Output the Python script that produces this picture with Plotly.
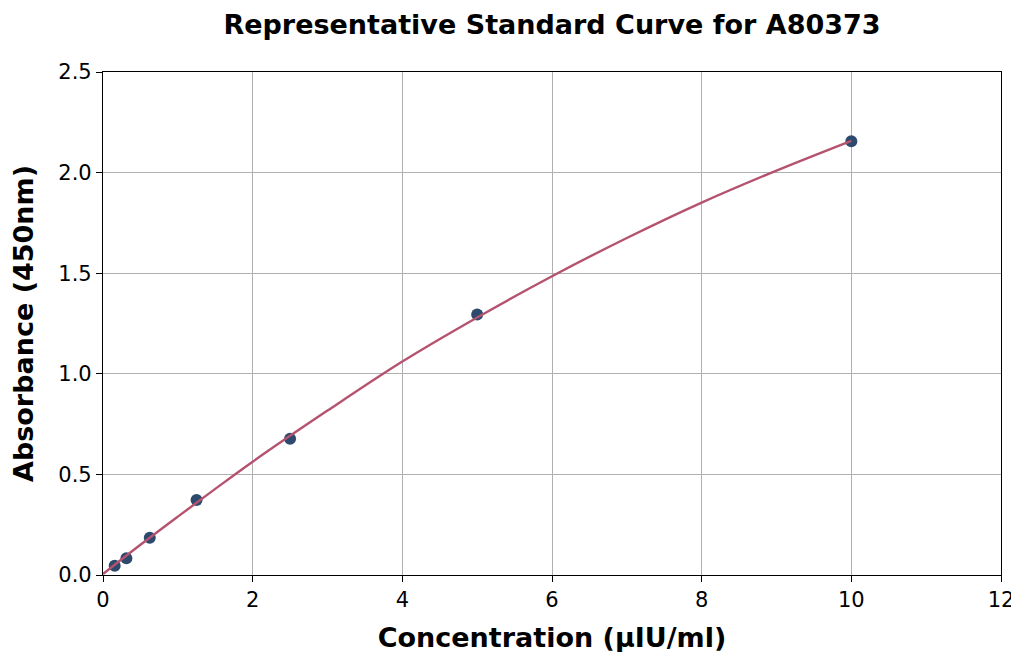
import plotly.graph_objects as go

conc = [0.156, 0.3125, 0.625, 1.25, 2.5, 5, 10]
absorb = [0.046, 0.083, 0.185, 0.373, 0.677, 1.295, 2.156]

curve_x = [0, 0.5, 1, 1.5, 2, 3, 4, 5, 6, 7, 8, 9, 10]
curve_y = [0.005, 0.15, 0.29, 0.428, 0.563, 0.817, 1.061, 1.28, 1.485, 1.675, 1.851, 2.01, 2.158]

x_ticks = [0, 2, 4, 6, 8, 10, 12]
y_ticks = [0.0, 0.5, 1.0, 1.5, 2.0, 2.5]
y_tick_labels = ["0.0", "0.5", "1.0", "1.5", "2.0", "2.5"]

fig = go.Figure()
fig.add_trace(go.Scatter(x=conc, y=absorb, mode="markers",
                         marker=dict(color="#2c4a6e", size=12), showlegend=False))
fig.add_trace(go.Scatter(x=curve_x, y=curve_y, mode="lines", line_shape="spline",
                         line=dict(color="#b5536f", width=2.4), showlegend=False))

axis_common = dict(showline=True, linecolor="black", linewidth=1.2, mirror=True,
                   showgrid=True, gridcolor="#b0b0b0", gridwidth=1,
                   ticks="outside", ticklen=6, tickcolor="black",
                   tickfont=dict(family="DejaVu Sans", size=21, color="black"),
                   zeroline=False)

fig.update_layout(
    width=1019, height=652,
    paper_bgcolor="white", plot_bgcolor="white",
    margin=dict(l=95, r=26, t=64, b=85),
    title=dict(text="<b>Representative Standard Curve for A80373</b>",
               xref="paper", x=0.5, xanchor="center",
               yref="container", y=0.975, yanchor="middle",
               font=dict(family="DejaVu Sans", size=27, color="black")),
    xaxis=dict(range=[0, 12], tickvals=x_ticks, ticktext=[str(t) for t in x_ticks],
               title=dict(text="<b>Concentration (µIU/ml)</b>", standoff=16,
                          font=dict(family="DejaVu Sans", size=27, color="black")),
               **axis_common),
    yaxis=dict(range=[0, 2.5], tickvals=y_ticks, ticktext=y_tick_labels,
               title=dict(text="<b>Absorbance (450nm)</b>", standoff=18,
                          font=dict(family="DejaVu Sans", size=27, color="black")),
               **axis_common),
)

fig.write_html("out.html", config={"displayModeBar": False},
               post_script="document.documentElement.style.overflow='hidden';document.body.style.overflow='hidden';")
